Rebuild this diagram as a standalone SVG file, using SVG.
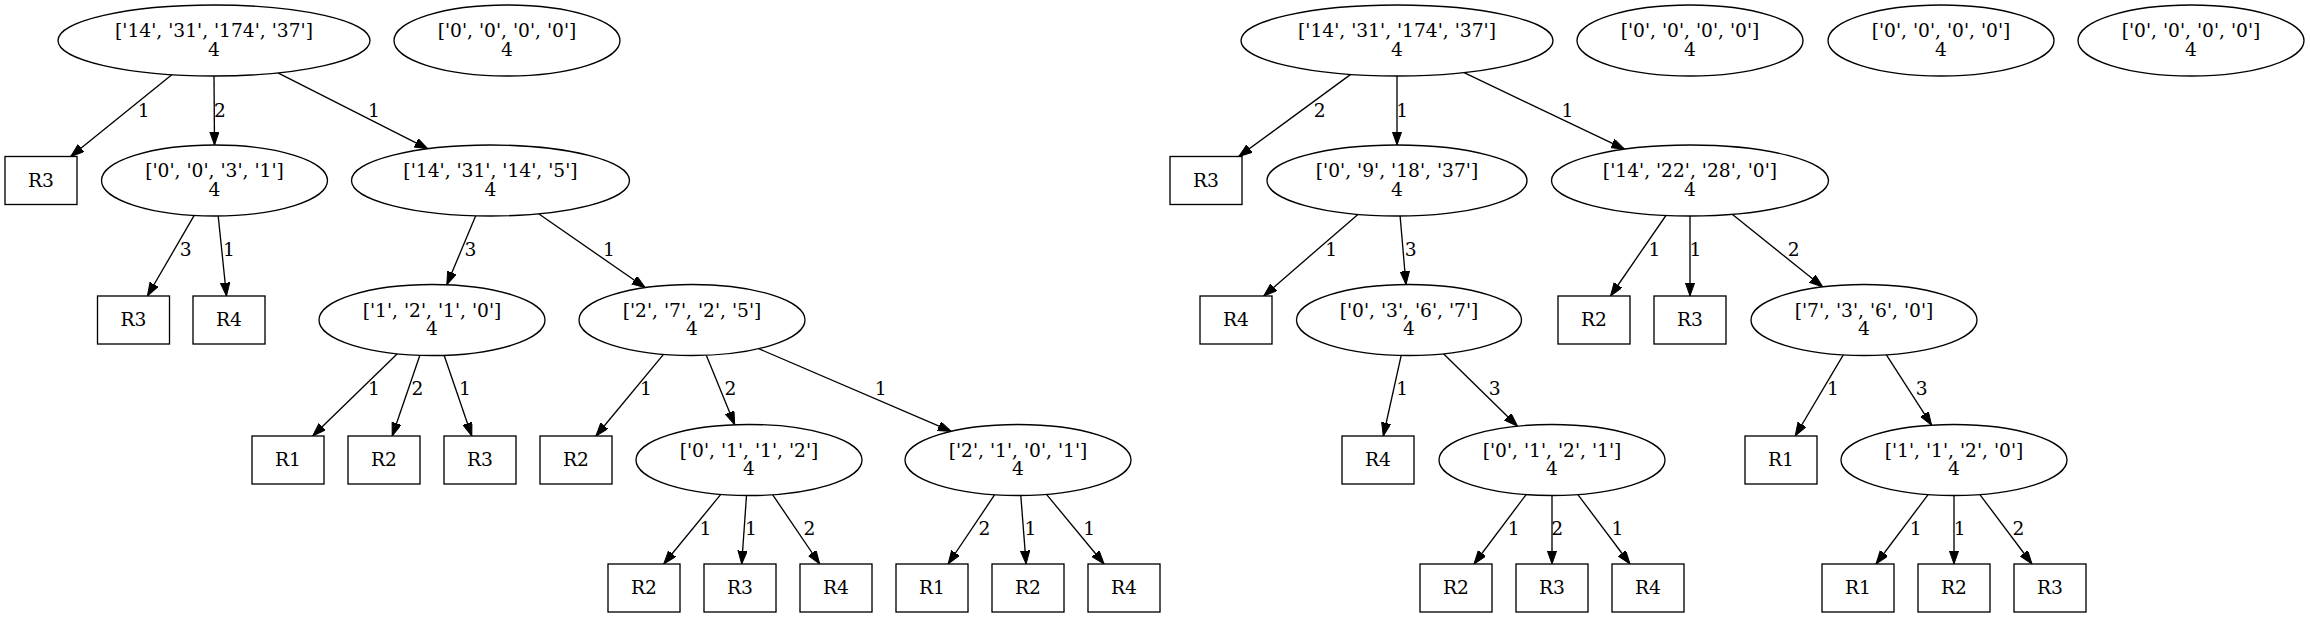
<svg xmlns="http://www.w3.org/2000/svg" width="2310" height="617" viewBox="0 0 2310 617">
<style>
.n ellipse,.n rect{fill:#fff;stroke:#000;stroke-width:1.33}
text{font-family:"DejaVu Serif","Liberation Serif",serif;font-size:18.67px;text-anchor:middle;fill:#000}
.e line{stroke:#000;stroke-width:1.33;marker-end:url(#arr)}
</style>
<defs>
<marker id="arr" viewBox="0 0 14 10" refX="13.3" refY="4.67" markerWidth="14" markerHeight="10" markerUnits="userSpaceOnUse" orient="auto">
<path d="M0,0 L13.3,4.67 L0,9.33 z" fill="#000" stroke="#000" stroke-width="1"/>
</marker>
</defs>
<rect width="2310" height="617" fill="#fff"/>
<g id="connectors" class="e">
<line x1="171.8" y1="74.7" x2="70.7" y2="156.5"/>
<line x1="214" y1="76" x2="214.5" y2="145"/>
<line x1="277.9" y1="72.9" x2="427.9" y2="148.8"/>
<line x1="194.2" y1="215.4" x2="147.4" y2="296"/>
<line x1="218.2" y1="216" x2="226.5" y2="296"/>
<line x1="475.7" y1="215.8" x2="446.8" y2="284.8"/>
<line x1="538.6" y1="213.8" x2="645.3" y2="287.7"/>
<line x1="397.3" y1="353.8" x2="312.7" y2="436"/>
<line x1="419.9" y1="355.3" x2="392.2" y2="436"/>
<line x1="444.1" y1="355.3" x2="471.8" y2="436"/>
<line x1="663.5" y1="354.4" x2="595.9" y2="436"/>
<line x1="706.3" y1="355.2" x2="734.7" y2="424.8"/>
<line x1="758.7" y1="348.7" x2="951.3" y2="431.4"/>
<line x1="720.8" y1="494.4" x2="663.7" y2="564"/>
<line x1="746.5" y1="495.5" x2="741.7" y2="564"/>
<line x1="772.6" y1="494.7" x2="819.7" y2="564"/>
<line x1="994.7" y1="494.7" x2="948.1" y2="564"/>
<line x1="1020.8" y1="495.5" x2="1026.1" y2="564"/>
<line x1="1046.5" y1="494.4" x2="1104.1" y2="564"/>
<line x1="1350.7" y1="74.4" x2="1238.7" y2="156.5"/>
<line x1="1397" y1="76" x2="1397" y2="145"/>
<line x1="1464.1" y1="72.6" x2="1624.5" y2="149.2"/>
<line x1="1357.9" y1="214.4" x2="1263.7" y2="296"/>
<line x1="1400.1" y1="216" x2="1406" y2="284.5"/>
<line x1="1665.9" y1="215.5" x2="1610.5" y2="296"/>
<line x1="1690" y1="216" x2="1690" y2="296"/>
<line x1="1732.2" y1="214.3" x2="1822.8" y2="287"/>
<line x1="1401.2" y1="355.4" x2="1383.3" y2="436"/>
<line x1="1443.5" y1="353.8" x2="1517.5" y2="426.2"/>
<line x1="1843.3" y1="354.9" x2="1795.2" y2="436"/>
<line x1="1886.4" y1="354.8" x2="1931.6" y2="425.2"/>
<line x1="1526.1" y1="494.6" x2="1474" y2="564"/>
<line x1="1552" y1="495.5" x2="1552" y2="564"/>
<line x1="1577.9" y1="494.6" x2="1630" y2="564"/>
<line x1="1928.1" y1="494.6" x2="1876" y2="564"/>
<line x1="1954" y1="495.5" x2="1954" y2="564"/>
<line x1="1979.9" y1="494.6" x2="2032" y2="564"/>
</g>
<g id="edge-labels">
<text x="143.8" y="116.8">1</text>
<text x="220" y="116.8">2</text>
<text x="374" y="116.8">1</text>
<text x="185.7" y="256.1">3</text>
<text x="229" y="256.1">1</text>
<text x="470.5" y="256.1">3</text>
<text x="609" y="256.1">1</text>
<text x="374" y="395.1">1</text>
<text x="417.4" y="395.1">2</text>
<text x="465" y="395.1">1</text>
<text x="646" y="395.1">1</text>
<text x="730.4" y="395.1">2</text>
<text x="880.8" y="395.1">1</text>
<text x="705.4" y="535.1">1</text>
<text x="751" y="535.1">1</text>
<text x="809.4" y="535.1">2</text>
<text x="984.4" y="535.1">2</text>
<text x="1030.4" y="535.1">1</text>
<text x="1089.3" y="535.1">1</text>
<text x="1319.6" y="116.8">2</text>
<text x="1402.2" y="116.8">1</text>
<text x="1567.4" y="116.8">1</text>
<text x="1331.3" y="256.1">1</text>
<text x="1410.7" y="256.1">3</text>
<text x="1654.5" y="256.1">1</text>
<text x="1695.5" y="256.1">1</text>
<text x="1793.7" y="256.1">2</text>
<text x="1402.2" y="395.1">1</text>
<text x="1494.6" y="395.1">3</text>
<text x="1833" y="395.1">1</text>
<text x="1921.6" y="395.1">3</text>
<text x="1513.8" y="535.1">1</text>
<text x="1557.1" y="535.1">2</text>
<text x="1617.4" y="535.1">1</text>
<text x="1915.8" y="535.1">1</text>
<text x="1959.6" y="535.1">1</text>
<text x="2018.5" y="535.1">2</text>
</g>
<g id="nA" class="n"><ellipse cx="214" cy="40.5" rx="156" ry="35.5"/><text x="214" y="37">['14', '31', '174', '37']</text><text x="214" y="55.7">4</text></g>
<g id="nB" class="n"><ellipse cx="507" cy="40.5" rx="113" ry="35.5"/><text x="507" y="37">['0', '0', '0', '0']</text><text x="507" y="55.7">4</text></g>
<g id="nC" class="n"><ellipse cx="214.5" cy="180.5" rx="113" ry="35.5"/><text x="214.5" y="177">['0', '0', '3', '1']</text><text x="214.5" y="195.7">4</text></g>
<g id="nD" class="n"><ellipse cx="490.5" cy="180.5" rx="139" ry="35.5"/><text x="490.5" y="177">['14', '31', '14', '5']</text><text x="490.5" y="195.7">4</text></g>
<g id="nE" class="n"><ellipse cx="432" cy="320" rx="113" ry="35.5"/><text x="432" y="316.5">['1', '2', '1', '0']</text><text x="432" y="335.2">4</text></g>
<g id="nF" class="n"><ellipse cx="692" cy="320" rx="113" ry="35.5"/><text x="692" y="316.5">['2', '7', '2', '5']</text><text x="692" y="335.2">4</text></g>
<g id="nG" class="n"><ellipse cx="749" cy="460" rx="113" ry="35.5"/><text x="749" y="456.5">['0', '1', '1', '2']</text><text x="749" y="475.2">4</text></g>
<g id="nH" class="n"><ellipse cx="1018" cy="460" rx="113" ry="35.5"/><text x="1018" y="456.5">['2', '1', '0', '1']</text><text x="1018" y="475.2">4</text></g>
<g id="nI" class="n"><ellipse cx="1397" cy="40.5" rx="156" ry="35.5"/><text x="1397" y="37">['14', '31', '174', '37']</text><text x="1397" y="55.7">4</text></g>
<g id="nJ" class="n"><ellipse cx="1690" cy="40.5" rx="113" ry="35.5"/><text x="1690" y="37">['0', '0', '0', '0']</text><text x="1690" y="55.7">4</text></g>
<g id="nK" class="n"><ellipse cx="1941" cy="40.5" rx="113" ry="35.5"/><text x="1941" y="37">['0', '0', '0', '0']</text><text x="1941" y="55.7">4</text></g>
<g id="nL" class="n"><ellipse cx="2191" cy="40.5" rx="113" ry="35.5"/><text x="2191" y="37">['0', '0', '0', '0']</text><text x="2191" y="55.7">4</text></g>
<g id="nM" class="n"><ellipse cx="1397" cy="180.5" rx="130" ry="35.5"/><text x="1397" y="177">['0', '9', '18', '37']</text><text x="1397" y="195.7">4</text></g>
<g id="nN" class="n"><ellipse cx="1690" cy="180.5" rx="138.5" ry="35.5"/><text x="1690" y="177">['14', '22', '28', '0']</text><text x="1690" y="195.7">4</text></g>
<g id="nO" class="n"><ellipse cx="1409" cy="320" rx="112.5" ry="35.5"/><text x="1409" y="316.5">['0', '3', '6', '7']</text><text x="1409" y="335.2">4</text></g>
<g id="nP" class="n"><ellipse cx="1864" cy="320" rx="113" ry="35.5"/><text x="1864" y="316.5">['7', '3', '6', '0']</text><text x="1864" y="335.2">4</text></g>
<g id="nQ" class="n"><ellipse cx="1552" cy="460" rx="113" ry="35.5"/><text x="1552" y="456.5">['0', '1', '2', '1']</text><text x="1552" y="475.2">4</text></g>
<g id="nS" class="n"><ellipse cx="1954" cy="460" rx="113" ry="35.5"/><text x="1954" y="456.5">['1', '1', '2', '0']</text><text x="1954" y="475.2">4</text></g>
<g id="b1" class="n"><rect x="5" y="156.5" width="72" height="48"/><text x="41" y="186.5">R3</text></g>
<g id="b2" class="n"><rect x="97.5" y="296" width="72" height="48"/><text x="133.5" y="326">R3</text></g>
<g id="b3" class="n"><rect x="193" y="296" width="72" height="48"/><text x="229" y="326">R4</text></g>
<g id="b4" class="n"><rect x="252" y="436" width="72" height="48"/><text x="288" y="466">R1</text></g>
<g id="b5" class="n"><rect x="348" y="436" width="72" height="48"/><text x="384" y="466">R2</text></g>
<g id="b6" class="n"><rect x="444" y="436" width="72" height="48"/><text x="480" y="466">R3</text></g>
<g id="b7" class="n"><rect x="540" y="436" width="72" height="48"/><text x="576" y="466">R2</text></g>
<g id="b8" class="n"><rect x="608" y="564" width="72" height="48"/><text x="644" y="594">R2</text></g>
<g id="b9" class="n"><rect x="704" y="564" width="72" height="48"/><text x="740" y="594">R3</text></g>
<g id="b10" class="n"><rect x="800" y="564" width="72" height="48"/><text x="836" y="594">R4</text></g>
<g id="b11" class="n"><rect x="896" y="564" width="72" height="48"/><text x="932" y="594">R1</text></g>
<g id="b12" class="n"><rect x="992" y="564" width="72" height="48"/><text x="1028" y="594">R2</text></g>
<g id="b13" class="n"><rect x="1088" y="564" width="72" height="48"/><text x="1124" y="594">R4</text></g>
<g id="b14" class="n"><rect x="1170" y="156.5" width="72" height="48"/><text x="1206" y="186.5">R3</text></g>
<g id="b15" class="n"><rect x="1200" y="296" width="72" height="48"/><text x="1236" y="326">R4</text></g>
<g id="b16" class="n"><rect x="1558" y="296" width="72" height="48"/><text x="1594" y="326">R2</text></g>
<g id="b17" class="n"><rect x="1654" y="296" width="72" height="48"/><text x="1690" y="326">R3</text></g>
<g id="b18" class="n"><rect x="1342" y="436" width="72" height="48"/><text x="1378" y="466">R4</text></g>
<g id="b19" class="n"><rect x="1745" y="436" width="72" height="48"/><text x="1781" y="466">R1</text></g>
<g id="b20" class="n"><rect x="1420" y="564" width="72" height="48"/><text x="1456" y="594">R2</text></g>
<g id="b21" class="n"><rect x="1516" y="564" width="72" height="48"/><text x="1552" y="594">R3</text></g>
<g id="b22" class="n"><rect x="1612" y="564" width="72" height="48"/><text x="1648" y="594">R4</text></g>
<g id="b23" class="n"><rect x="1822" y="564" width="72" height="48"/><text x="1858" y="594">R1</text></g>
<g id="b24" class="n"><rect x="1918" y="564" width="72" height="48"/><text x="1954" y="594">R2</text></g>
<g id="b25" class="n"><rect x="2014" y="564" width="72" height="48"/><text x="2050" y="594">R3</text></g>
</svg>
